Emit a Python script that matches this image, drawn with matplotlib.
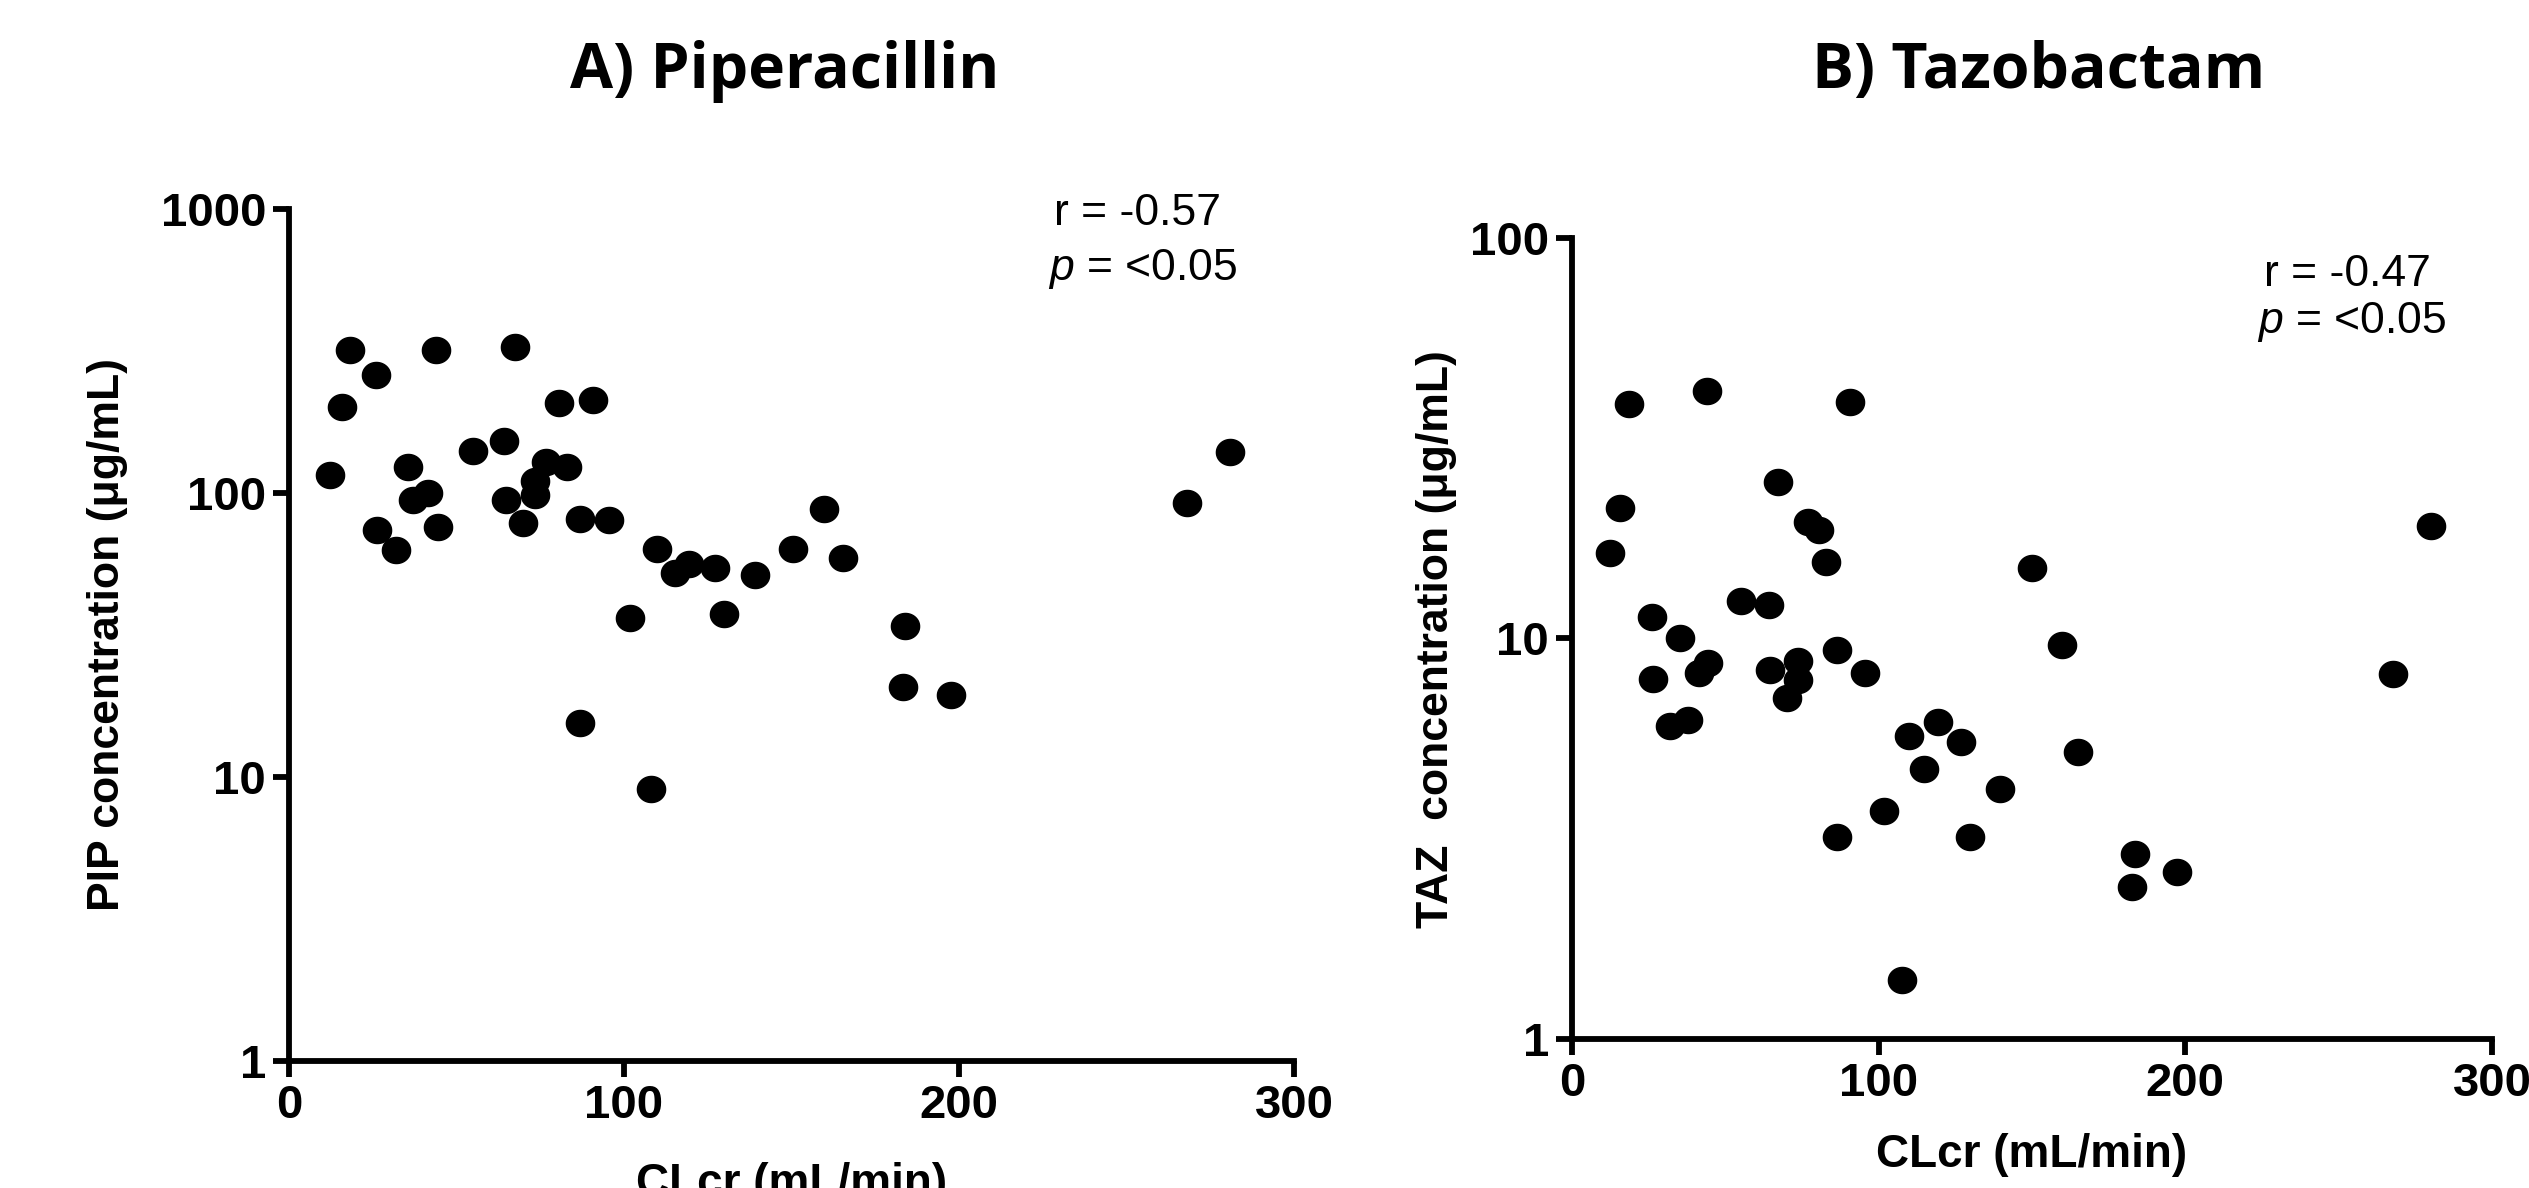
import numpy as np
import matplotlib
matplotlib.use("Agg")
import matplotlib.pyplot as plt
from matplotlib.path import Path

# piperacillin: CLcr (mL/min) vs concentration (ug/mL)
pip_clcr = [12.3, 15.7, 18.3, 26.0, 26.2, 31.9, 35.5, 37.0, 41.4, 44.0, 44.5,
            55.0, 64.3, 64.8, 67.4, 69.9, 73.5, 73.5, 76.6, 80.5, 83.0, 86.9,
            86.9, 90.7, 95.6, 101.8, 108.0, 110.0, 115.2, 119.5, 127.2, 130.0,
            139.0, 150.4, 159.6, 165.3, 183.3, 184.0, 197.7, 268.0, 281.0]
pip_conc = [116, 201, 318, 260, 73.9, 63, 123, 94.4, 100, 318, 75.7,
            141, 152, 94.8, 326, 78.7, 110, 98, 129, 207, 123, 81,
            15.5, 212, 80.4, 36.2, 9.1, 63.4, 52.1, 56.1, 54.5, 37.5,
            51.5, 63.7, 87.7, 59.2, 20.7, 34.1, 19.4, 92, 139]

# tazobactam
taz_clcr = [12.4, 15.5, 18.6, 26.0, 26.3, 32.0, 35.3, 37.7, 41.3, 44.4, 44.0,
            55.2, 64.2, 64.7, 67.1, 70.0, 73.6, 73.6, 76.9, 80.5, 82.9, 86.5,
            86.5, 90.8, 95.5, 101.7, 107.5, 109.9, 114.9, 119.4, 126.8, 129.7,
            139.5, 150.0, 159.8, 165.0, 182.7, 183.7, 197.3, 267.7, 280.2]
taz_conc = [16.3, 21.2, 38.5, 11.3, 7.9, 6.05, 10.0, 6.24, 8.2, 8.7, 41.5,
            12.4, 12.1, 8.34, 24.5, 7.1, 8.8, 7.85, 19.5, 18.6, 15.5, 9.35,
            3.2, 38.8, 8.2, 3.7, 1.40, 5.7, 4.71, 6.18, 5.52, 3.2,
            4.2, 15.0, 9.6, 5.21, 2.40, 2.90, 2.61, 8.13, 19.1]

xticks = [0, 100, 200, 300]
pip_yticks = [1, 10, 100, 1000]
taz_yticks = [1, 10, 100]

arial = "Liberation Sans"
plt.rcParams["mathtext.fontset"] = "custom"
plt.rcParams["mathtext.rm"] = "Liberation Sans"
plt.rcParams["mathtext.it"] = "Liberation Sans:italic"

# slightly wide dot like the original
t = np.linspace(0, 2 * np.pi, 80)
dot = Path(np.column_stack([1.08 * np.cos(t), np.sin(t)]))

fig = plt.figure(figsize=(25.29, 11.88), dpi=100)
ax1 = fig.add_axes([0.11427, 0.10690, 0.39739, 0.71717])
ax2 = fig.add_axes([0.62159, 0.12542, 0.36378, 0.67458])

def style(ax, yticks, ylim):
    ax.set_yscale("log")
    ax.set_xlim(0, 300)
    ax.set_ylim(*ylim)
    ax.set_xticks(xticks)
    ax.set_yticks(yticks)
    ax.yaxis.set_minor_locator(matplotlib.ticker.NullLocator())
    ax.set_xticklabels([str(v) for v in xticks])
    ax.set_yticklabels([str(v) for v in yticks])
    for s in ["top", "right"]:
        ax.spines[s].set_visible(False)
    for s in ["left", "bottom"]:
        ax.spines[s].set_linewidth(4.2)
    ax.tick_params(width=4.2, length=11.5, pad=5.0, labelsize=34)
    for lab in ax.get_xticklabels() + ax.get_yticklabels():
        lab.set_fontfamily(arial)
        lab.set_fontweight("bold")

ax1.plot(pip_clcr, pip_conc, ls="none", marker=dot, ms=20.3, color="black", clip_on=False)
style(ax1, pip_yticks, (1, 1000))
ax2.plot(taz_clcr, taz_conc, ls="none", marker=dot, ms=20.3, color="black", clip_on=False)
style(ax2, taz_yticks, (1, 100))

# titles
fig.text(0.3104, 0.9259, "A) Piperacillin", ha="center", va="baseline",
         fontsize=45, fontweight="bold", family="Open Sans")
fig.text(0.8061, 0.9259, "B) Tazobactam", ha="center", va="baseline",
         fontsize=45, fontweight="bold", family="Open Sans")

# axis labels
fig.text(0.0427, 0.4663, "PIP concentration (\u03bcg/mL)", rotation=90, ha="center",
         va="center", fontsize=32, fontweight="bold", family=arial)
fig.text(0.568, 0.4621, "TAZ  concentration (\u03bcg/mL)", rotation=90, ha="center",
         va="center", fontsize=32, fontweight="bold", family=arial)
fig.text(0.3128, -0.0067, "CLcr (mL/min)", ha="center", va="baseline",
         fontsize=33, fontweight="bold", family=arial)
fig.text(0.8035, 0.01768, "CLcr (mL/min)", ha="center", va="baseline",
         fontsize=33, fontweight="bold", family=arial)

# correlation stats
fig.text(0.4496, 0.8106, "r = -0.57", ha="center", va="baseline", fontsize=32, family=arial)
fig.text(0.4520, 0.7643, "$p$ = <0.05", ha="center", va="baseline", fontsize=32, family=arial)
fig.text(0.9284, 0.7593, "r = -0.47", ha="center", va="baseline", fontsize=32, family=arial)
fig.text(0.9300, 0.7197, "$p$ = <0.05", ha="center", va="baseline", fontsize=32, family=arial)

fig.savefig("out.png", dpi=100)
